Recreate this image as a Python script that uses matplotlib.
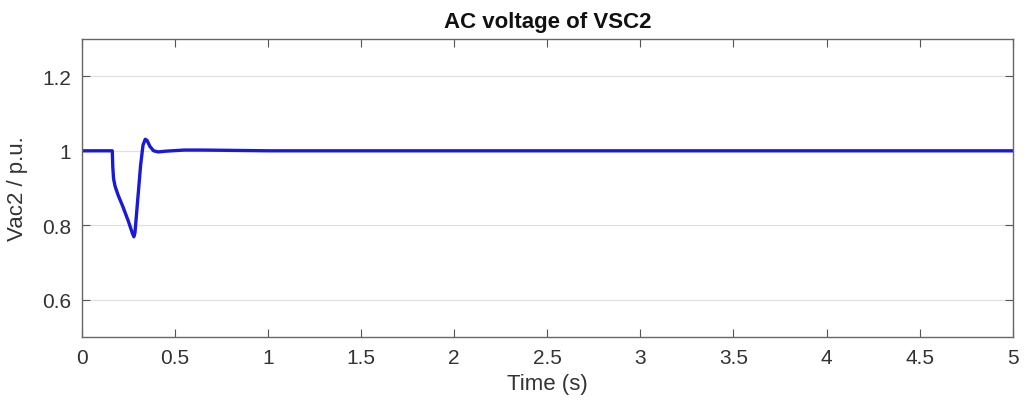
import matplotlib
matplotlib.use("Agg")
import matplotlib.pyplot as plt

time_s = [0.0, 0.163, 0.166, 0.170, 0.178, 0.195, 0.22, 0.25, 0.27, 0.279, 0.285, 0.30, 0.315, 0.328, 0.340, 0.350, 0.365, 0.385, 0.41, 0.45, 0.55, 0.65, 1.0, 5.0]
vac2 = [1.0, 1.0, 0.955, 0.925, 0.905, 0.88, 0.85, 0.81, 0.78, 0.769, 0.78, 0.87, 0.96, 1.015, 1.031, 1.028, 1.012, 1.0, 0.997, 0.999, 1.002, 1.002, 1.0, 1.0]

xticks = [0, 0.5, 1, 1.5, 2, 2.5, 3, 3.5, 4, 4.5, 5]
xticklabels = ["0", "0.5", "1", "1.5", "2", "2.5", "3", "3.5", "4", "4.5", "5"]
yticks = [0.6, 0.8, 1.0, 1.2]
yticklabels = ["0.6", "0.8", "1", "1.2"]

plt.rcParams['font.family'] = ['Liberation Sans', 'DejaVu Sans']
fig = plt.figure(figsize=(10.24, 4.10), dpi=100)
ax = fig.add_axes([0.080, 0.176, 0.909, 0.726])
ax.plot(time_s, vac2, color="#1a1ad6", linewidth=2.4, solid_joinstyle="round")
ax.set_xlim(0, 5)
ax.set_ylim(0.5, 1.3)
ax.set_xticks(xticks)
ax.set_xticklabels(xticklabels)
ax.set_yticks(yticks)
ax.set_yticklabels(yticklabels)
ax.yaxis.grid(True, color="#e0e0e0", linewidth=0.9)
ax.set_axisbelow(True)
ax.tick_params(direction="in", top=True, right=True, length=6, width=0.8,
               color="#555555", labelsize=15, labelcolor="#333333", pad=8)
for s in ax.spines.values():
    s.set_color("#666666")
    s.set_linewidth(1.0)
ax.set_xlabel("Time (s)", fontsize=16, color="#333333", labelpad=4)
ax.set_ylabel("Vac2 / p.u.", fontsize=16, color="#333333", labelpad=10)
ax.set_title("AC voltage of VSC2", fontsize=16, fontweight="bold", color="#111111", pad=9)
fig.savefig("out.png", dpi=100)
